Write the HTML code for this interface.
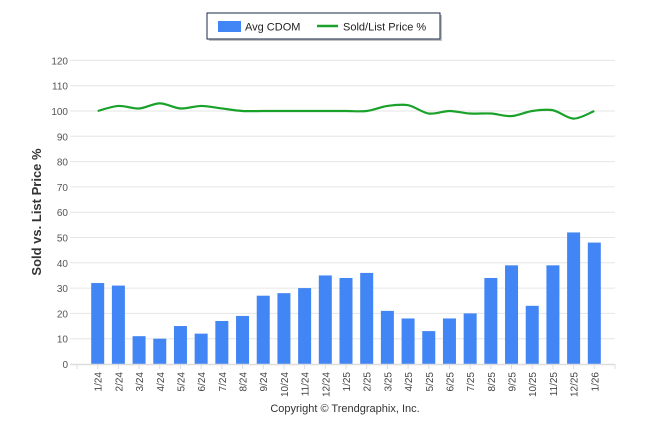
<!DOCTYPE html>
<html><head><meta charset="utf-8">
<style>
body{margin:0;background:#fff;}
svg text{font-family:"Liberation Sans",sans-serif;}
</style></head>
<body>
<svg id="chart" width="646" height="434" xmlns="http://www.w3.org/2000/svg">
  <g>
    <rect x="209" y="15" width="233" height="26" fill="#888" opacity="0.5"/>
    <rect x="207" y="13" width="233" height="26" fill="#fff" stroke="#1a2a4a" stroke-width="1"/>
    <rect x="218" y="21" width="23" height="11" fill="#4285f4"/>
    <text x="245" y="30.5" font-size="11" fill="#222">Avg CDOM</text>
    <line x1="317" y1="26" x2="338" y2="26" stroke="#19a12a" stroke-width="2.5"/>
    <text x="343" y="30.5" font-size="11" fill="#222">Sold/List Price %</text>
  </g>
  <g id="grid"></g>
  <g id="yticks"></g>
  <g id="bars"></g>
  <path id="line" fill="none" stroke="#19a12a" stroke-width="2.2"/>
  <g id="xaxis"></g>
  <text transform="translate(41,212) rotate(-90)" text-anchor="middle" font-size="13" font-weight="bold" fill="#333">Sold vs. List Price %</text>
  <text x="345" y="412" text-anchor="middle" font-size="11" fill="#333">Copyright © Trendgraphix, Inc.</text>
</svg>
<script>
const categories=["1/24","2/24","3/24","4/24","5/24","6/24","7/24","8/24","9/24","10/24","11/24","12/24","1/25","2/25","3/25","4/25","5/25","6/25","7/25","8/25","9/25","10/25","11/25","12/25","1/26"];
const avgCdom=[32,31,11,10,15,12,17,19,27,28,30,35,34,36,21,18,13,18,20,34,39,23,39,52,48];
const soldList=[100,102,101,103,101,102,101,100,100,100,100,100,100,100,102,102.3,99,100,99,99,98,100,100.3,97,100];
const yTicks=[0,10,20,30,40,50,60,70,80,90,100,110,120];
const NS="http://www.w3.org/2000/svg";
const x0=77,x1=615,y0=364,y1=60.4,yMax=120;
const bw=(x1-x0)/(categories.length+1);
function xs(i){return x0+(i+1)*bw;}
function ys(v){return y0-(v/yMax)*(y0-y1);}
function mk(tag,attrs,parent){const e=document.createElementNS(NS,tag);for(const k in attrs)e.setAttribute(k,attrs[k]);parent.appendChild(e);return e;}
const grid=document.getElementById('grid'),yt=document.getElementById('yticks'),bars=document.getElementById('bars'),xa=document.getElementById('xaxis');
yTicks.forEach(t=>{
  if(t>0){const g=mk('line',{x1:70,x2:x1,y1:ys(t),y2:ys(t),stroke:'#e6e6e6','stroke-width':1},grid);
  
  }
  const tx=mk('text',{x:68,y:ys(t)+4,'text-anchor':'end','font-size':10,fill:'#555'},yt);
  tx.textContent=t;
  
  
});
const ax=mk('line',{x1:x0-7,x2:x1,y1:y0+0.5,y2:y0+0.5,stroke:'#ddd','stroke-width':1.5},xa);


categories.forEach((c,i)=>{
  const cx=xs(i);
  const r=mk('rect',{x:cx-6.5,y:ys(avgCdom[i]),width:13,height:y0-ys(avgCdom[i]),fill:'#4285f4'},bars);
  
  
  mk('line',{x1:cx,x2:cx,y1:y0,y2:y0+5,stroke:'#ddd'},xa);
  const t=mk('text',{transform:`translate(${cx+4},${y0+8}) rotate(-90)`,'text-anchor':'end','font-size':10,fill:'#444'},xa);
  t.textContent=c;
  
  
});
mk('line',{x1:x0,x2:x0,y1:y0,y2:y0+5,stroke:'#ddd'},xa);
mk('line',{x1:x1,x2:x1,y1:y0,y2:y0+5,stroke:'#ddd'},xa);
const pts=soldList.map((v,i)=>[xs(i),ys(v)]);
let d=`M${pts[0][0]},${pts[0][1]}`;
for(let i=0;i<pts.length-1;i++){
  const p0=pts[Math.max(0,i-1)],p1=pts[i],p2=pts[i+1],p3=pts[Math.min(pts.length-1,i+2)];
  const t=0.16;
  const c1=[p1[0]+(p2[0]-p0[0])*t,p1[1]+(p2[1]-p0[1])*t];
  const c2=[p2[0]-(p3[0]-p1[0])*t,p2[1]-(p3[1]-p1[1])*t];
  d+=` C${c1[0]},${c1[1]} ${c2[0]},${c2[1]} ${p2[0]},${p2[1]}`;
}
document.getElementById('line').setAttribute('d',d);
</script>
</body></html>
